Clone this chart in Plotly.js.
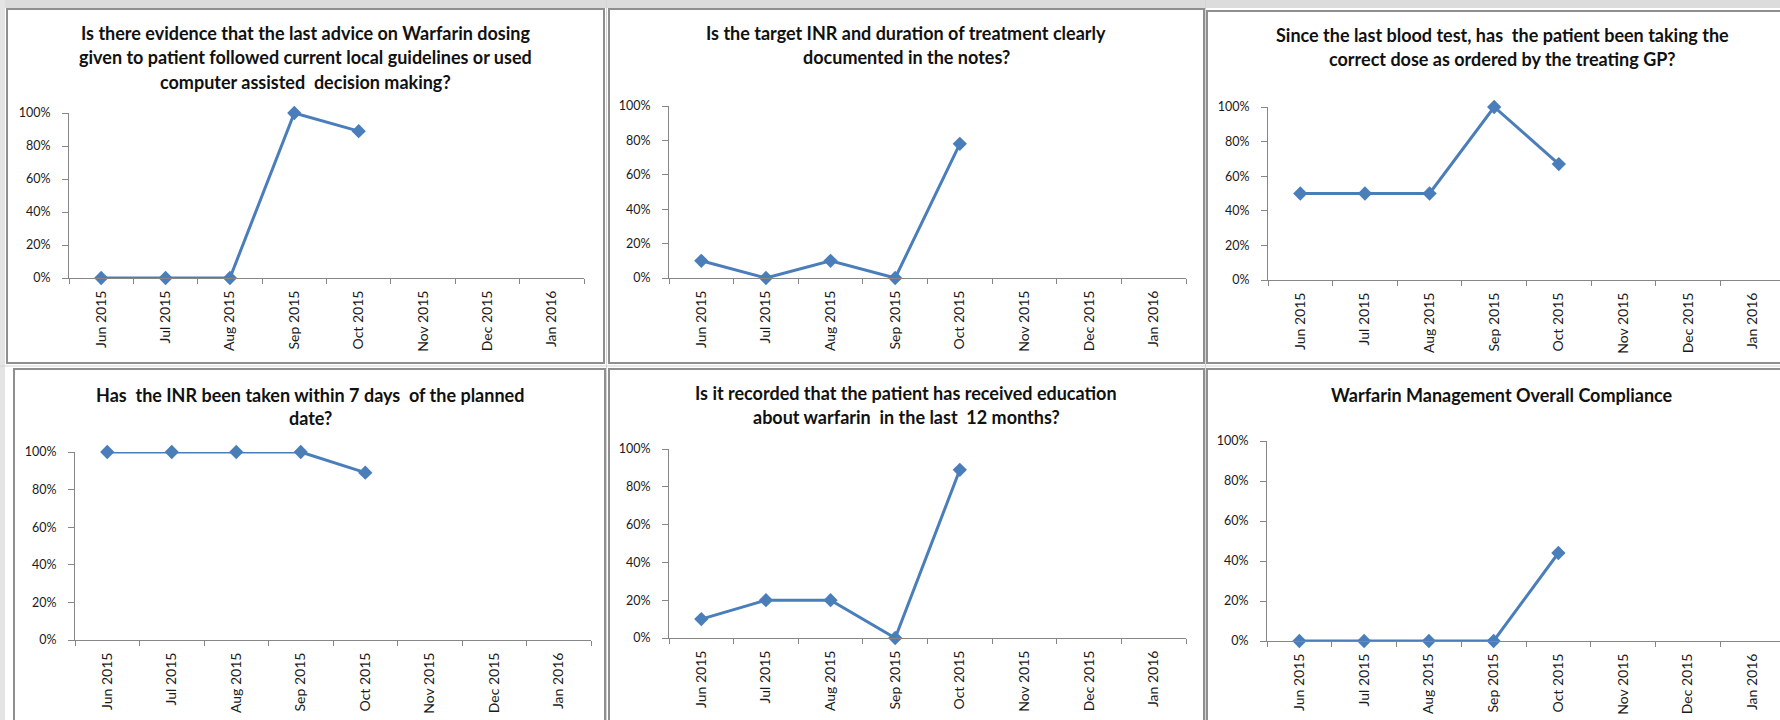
<!DOCTYPE html>
<html>
<head>
<meta charset="utf-8">
<script src="https://cdn.plot.ly/plotly-3.0.1.min.js"></script>
<style>
  html, body { margin: 0; padding: 0; background: #ffffff; }
  #chart { width: 1780px; height: 720px; }
</style>
</head>
<body>
<div id="chart"></div>
<script>
// ---------------- DATA ----------------
const months = ["Jun 2015", "Jul 2015", "Aug 2015", "Sep 2015", "Oct 2015", "Nov 2015", "Dec 2015", "Jan 2016"];
const reportedMonths = ["Jun 2015", "Jul 2015", "Aug 2015", "Sep 2015", "Oct 2015"];

const adviceFollowedGuidelines = [0.00, 0.00, 0.00, 1.00, 0.89];
const targetInrDocumented      = [0.10, 0.00, 0.10, 0.00, 0.78];
const correctDoseTaken         = [0.50, 0.50, 0.50, 1.00, 0.67];
const inrWithin7Days           = [1.00, 1.00, 1.00, 1.00, 0.89];
const educationRecorded        = [0.10, 0.20, 0.20, 0.00, 0.89];
const overallCompliance        = [0.00, 0.00, 0.00, 0.00, 0.44];

const title1 = ["Is there evidence that the last advice on Warfarin dosing",
                "given to patient followed current local guidelines or used",
                "computer assisted  decision making?"];
const title2 = ["Is the target INR and duration of treatment clearly",
                "documented in the notes?"];
const title3 = ["Since the last blood test, has  the patient been taking the",
                "correct dose as ordered by the treating GP?"];
const title4 = ["Has  the INR been taken within 7 days  of the planned",
                "date?"];
const title5 = ["Is it recorded that the patient has received education",
                "about warfarin  in the last  12 months?"];
const title6 = ["Warfarin Management Overall Compliance"];

const yTickVals = [0, 0.2, 0.4, 0.6, 0.8, 1.0];

// ---------------- LAYOUT (pixel geometry) ----------------
const W = 1780, H = 720;
const fx = p => p / W;
const fy = p => 1 - p / H;

const panels = [
  { values: adviceFollowedGuidelines, title: title1, plot: [69, 584, 113, 278],  box: [7, 604, 9, 363],     tx: 305,  ty: [33, 57, 82] },
  { values: targetInrDocumented,      title: title2, plot: [669, 1186, 106, 278], box: [609, 1204, 9, 363],  tx: 906,  ty: [33, 57] },
  { values: correctDoseTaken,         title: title3, plot: [1268, 1785, 107, 280], box: [1207, 1800, 11, 363], tx: 1502, ty: [35, 59] },
  { values: inrWithin7Days,           title: title4, plot: [75, 591, 452, 640],  box: [14, 605, 369, 740],   tx: 310,  ty: [395, 418] },
  { values: educationRecorded,        title: title5, plot: [669, 1186, 449, 638], box: [609, 1204, 369, 740], tx: 906,  ty: [393, 417] },
  { values: overallCompliance,        title: title6, plot: [1267, 1785, 441, 641], box: [1207, 1800, 369, 740], tx: 1502, ty: [395] }
];

const lineColor = "#4A7EBB";
const axisColor = "#868686";
const yTickFont = { family: "Lato, 'Open Sans', sans-serif", size: 12.5, color: "#1a1a1a" };
const xTickFont = { family: "Lato, 'Open Sans', sans-serif", size: 14, color: "#1a1a1a" };
const titleFont = { family: "Lato, 'Open Sans', sans-serif", size: 18, color: "#111111", weight: "bold" };

const data = [];
const layout = {
  width: W, height: H,
  margin: { l: 0, r: 0, t: 0, b: 0 },
  paper_bgcolor: "#ffffff",
  plot_bgcolor: "rgba(0,0,0,0)",
  showlegend: false,
  shapes: [],
  annotations: []
};

// spreadsheet background strips
layout.shapes.push({ type: "rect", xref: "paper", yref: "paper", x0: 0, x1: 1, y0: fy(8), y1: 1, fillcolor: "#dcdcdc", line: { width: 0 }, layer: "below" });
layout.shapes.push({ type: "rect", xref: "paper", yref: "paper", x0: 0, x1: fx(5), y0: 0, y1: 1, fillcolor: "#e4e4e4", line: { width: 0 }, layer: "below" });
layout.shapes.push({ type: "line", xref: "paper", yref: "paper", x0: 0, x1: 1, y0: fy(366), y1: fy(366), line: { color: "#d4d4d4", width: 1 }, layer: "below" });
layout.shapes.push({ type: "line", xref: "paper", yref: "paper", x0: fx(606.5), x1: fx(606.5), y0: 0, y1: 1, line: { color: "#d4d4d4", width: 1 }, layer: "below" });
layout.shapes.push({ type: "line", xref: "paper", yref: "paper", x0: fx(1205.5), x1: fx(1205.5), y0: 0, y1: 1, line: { color: "#d4d4d4", width: 1 }, layer: "below" });

panels.forEach((p, i) => {
  const n = i + 1;
  const xa = "xaxis" + (n === 1 ? "" : n);
  const ya = "yaxis" + (n === 1 ? "" : n);
  const xr = "x" + (n === 1 ? "" : n);
  const yr = "y" + (n === 1 ? "" : n);

  // chart box
  layout.shapes.push({
    type: "rect", xref: "paper", yref: "paper",
    x0: fx(p.box[0]), x1: fx(p.box[1]), y0: fy(p.box[3]), y1: fy(p.box[2]),
    fillcolor: "#ffffff", line: { color: "#8f8f8f", width: 2 }, layer: "below"
  });

  const px1 = Math.min(p.plot[1], W);
  const rangeEnd = -0.5 + (px1 - p.plot[0]) / ((p.plot[1] - p.plot[0]) / 8);

  layout[xa] = {
    domain: [fx(p.plot[0]), fx(px1)],
    anchor: yr,
    type: "category",
    categoryorder: "array",
    categoryarray: months,
    tickvals: months,
    ticktext: months,
    range: [-0.5, rangeEnd],
    tickson: "boundaries",
    ticks: "outside",
    ticklen: 5,
    tickcolor: axisColor,
    tickwidth: 1,
    ticklabelstandoff: 6,
    showline: true,
    linecolor: axisColor,
    linewidth: 1,
    showgrid: false,
    zeroline: false,
    tickangle: -90,
    tickfont: xTickFont,
    fixedrange: true
  };
  layout[ya] = {
    domain: [fy(p.plot[3]), fy(p.plot[2])],
    anchor: xr,
    range: [0, 1],
    tickvals: yTickVals,
    tickformat: ".0%",
    ticks: "outside",
    ticklen: 6,
    tickcolor: axisColor,
    tickwidth: 1,
    ticklabelstandoff: 9,
    showline: true,
    linecolor: axisColor,
    linewidth: 1,
    showgrid: false,
    zeroline: false,
    tickfont: yTickFont,
    fixedrange: true
  };

  data.push({
    type: "scatter",
    mode: "lines+markers",
    x: reportedMonths,
    y: p.values,
    xaxis: xr,
    yaxis: yr,
    cliponaxis: false,
    line: { color: lineColor, width: 3 },
    marker: { symbol: "diamond", size: 11, color: lineColor, line: { width: 0 } },
    hoverinfo: "x+y"
  });

  p.title.forEach((t, k) => {
    layout.annotations.push({
      xref: "paper", yref: "paper",
      x: fx(p.tx), y: fy(p.ty[k]),
      xanchor: "center", yanchor: "middle",
      text: "<b>" + t.replace(/  /g, " &nbsp;") + "</b>",
      showarrow: false,
      font: titleFont
    });
  });
});

Plotly.newPlot("chart", data, layout, { staticPlot: true, displayModeBar: false });
</script>
</body>
</html>
